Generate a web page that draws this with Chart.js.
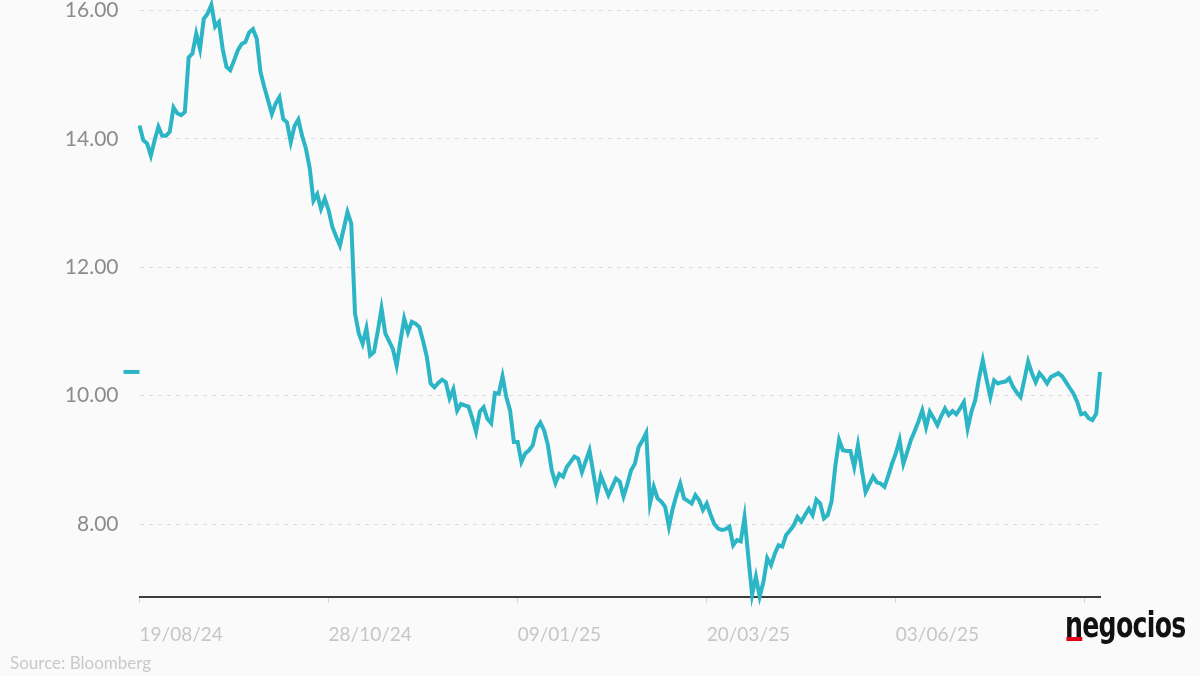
<!DOCTYPE html>
<html>
<head>
<meta charset="utf-8">
<script src="https://cdn.jsdelivr.net/npm/chart.js@4"></script>
<style>
  html, body { margin: 0; padding: 0; background: #fafafa; }
  #wrap { position: relative; width: 1200px; height: 676px; overflow: hidden; }
  #chart { display: block; }
  #source { position: absolute; left: 10px; top: 652px; font: 17px Lato, sans-serif; color: #c9c9c9; }
  #logo { position: absolute; left: 1065px; top: 608px; font: bold 35px/35px "DejaVu Sans", sans-serif; letter-spacing: -1px; color: #111; transform: scaleX(0.72); transform-origin: 0 0; white-space: nowrap; }
  #logo .bar { position: absolute; left: 2px; top: 29px; width: 22px; height: 4px; background: #e3001b; }
</style>
</head>
<body>
<div id="wrap">
  <canvas id="chart" width="1200" height="676"></canvas>
  <div id="source">Source: Bloomberg</div>
  <div id="logo">negocios<span class="bar"></span></div>
</div>
<script>
// cotação diária, índice de sessão a partir de 19/08/24
const prices = [
  14.21, 13.98, 13.93, 13.74, 13.98, 14.19, 14.05, 14.05, 14.11, 14.49,
  14.40, 14.37, 14.42, 15.27, 15.33, 15.64, 15.40, 15.87, 15.95, 16.09,
  15.75, 15.82, 15.40, 15.12, 15.07, 15.22, 15.38, 15.48, 15.51, 15.66,
  15.71, 15.56, 15.04, 14.81, 14.60, 14.39, 14.55, 14.65, 14.31, 14.26,
  13.95, 14.20, 14.30, 14.05, 13.85, 13.55, 13.04, 13.14, 12.91, 13.07,
  12.89, 12.63, 12.48, 12.34, 12.60, 12.86, 12.68, 11.28, 10.97, 10.81,
  11.05, 10.63, 10.68, 11.00, 11.36, 10.97, 10.85, 10.73, 10.47, 10.85,
  11.20, 10.99, 11.15, 11.12, 11.07, 10.85, 10.60, 10.19, 10.13, 10.20,
  10.25, 10.21, 9.96, 10.10, 9.77, 9.87, 9.85, 9.83, 9.65, 9.44,
  9.75, 9.82, 9.64, 9.57, 10.04, 10.03, 10.30, 9.98, 9.77, 9.28,
  9.28, 8.97, 9.10, 9.15, 9.23, 9.49, 9.58, 9.46, 9.23, 8.84,
  8.64, 8.78, 8.74, 8.89, 8.97, 9.05, 9.02, 8.81, 8.98, 9.15,
  8.80, 8.45, 8.75, 8.60, 8.45, 8.58, 8.71, 8.66, 8.43, 8.62,
  8.84, 8.94, 9.20, 9.30, 9.42, 8.32, 8.58, 8.40, 8.35, 8.27,
  7.96, 8.24, 8.45, 8.63, 8.40, 8.36, 8.32, 8.45, 8.37, 8.22,
  8.32, 8.15, 8.00, 7.93, 7.91, 7.92, 7.96, 7.67, 7.75, 7.73,
  8.11, 7.49, 6.90, 7.18, 6.87, 7.10, 7.47, 7.36, 7.54, 7.67,
  7.65, 7.83, 7.90, 7.98, 8.11, 8.04, 8.14, 8.24, 8.14, 8.38,
  8.32, 8.09, 8.14, 8.35, 8.90, 9.31, 9.15, 9.14, 9.14, 8.89,
  9.23, 8.85, 8.50, 8.62, 8.74, 8.65, 8.63, 8.58, 8.75, 8.94,
  9.10, 9.31, 8.94, 9.12, 9.31, 9.45, 9.60, 9.77, 9.51, 9.75,
  9.65, 9.54, 9.68, 9.80, 9.70, 9.76, 9.71, 9.80, 9.90, 9.49,
  9.75, 9.93, 10.27, 10.55, 10.25, 9.98, 10.24, 10.19, 10.21, 10.22,
  10.27, 10.14, 10.05, 9.98, 10.25, 10.53, 10.35, 10.21, 10.35, 10.28,
  10.19, 10.29, 10.32, 10.35, 10.30, 10.21, 10.12, 10.03, 9.90, 9.71,
  9.73, 9.65, 9.62, 9.72, 10.37
];

const xTickPositions = [0, 50, 100, 150, 200, 250];
const xTickLabels = ['19/08/24', '28/10/24', '09/01/25', '20/03/25', '03/06/25', ''];
const yTicks = [8, 10, 12, 14, 16];

const teal = '#2bb5c5';

// marca do último valor junto ao eixo
const lastValueMarker = {
  id: 'lastValueMarker',
  afterDatasetsDraw(chart) {
    const { ctx, chartArea, scales } = chart;
    const y = scales.y.getPixelForValue(prices[prices.length - 1]);
    ctx.save();
    ctx.strokeStyle = teal;
    ctx.lineWidth = 4;
    ctx.beginPath();
    ctx.moveTo(chartArea.left - 16, y);
    ctx.lineTo(chartArea.left, y);
    ctx.stroke();
    ctx.restore();
  }
};

new Chart(document.getElementById('chart'), {
  type: 'line',
  data: {
    datasets: [{
      data: prices.map((v, i) => ({ x: i, y: v })),
      borderColor: teal,
      borderWidth: 4,
      pointRadius: 0,
      tension: 0,
      clip: false
    }]
  },
  options: {
    responsive: false,
    animation: false,
    layout: { padding: { left: 0, right: 100, top: 0, bottom: 0 } },
    plugins: { legend: { display: false }, tooltip: { enabled: false } },
    scales: {
      x: {
        type: 'linear',
        min: 0,
        max: 254,
        afterBuildTicks: (axis) => { axis.ticks = xTickPositions.map(v => ({ value: v })); },
        afterFit: (axis) => { axis.height = 79; },
        border: { display: true, color: '#3c3c3c', width: 2 },
        grid: { drawOnChartArea: false, drawTicks: true, tickLength: 6, color: '#d6d6d6' },
        ticks: {
          align: 'start',
          padding: 20,
          maxRotation: 0,
          autoSkip: false,
          color: '#c6c6c6',
          font: { family: 'Lato', size: 19 },
          callback: (v) => xTickLabels[xTickPositions.indexOf(v)] ?? ''
        }
      },
      y: {
        min: 6.864,
        max: 16.156,
        afterBuildTicks: (axis) => { axis.ticks = yTicks.map(v => ({ value: v })); },
        afterFit: (axis) => { axis.width = 139.5; },
        border: { display: false, dash: [4, 5] },
        grid: { drawTicks: true, tickLength: 21, tickColor: 'transparent', color: '#dcdcdc', lineWidth: 1 },
        ticks: {
          padding: 0,
          color: '#8c8c8c',
          font: { family: 'Lato', size: 21, lineHeight: 0.05 },
          callback: (v) => v.toFixed(2)
        }
      }
    }
  },
  plugins: [lastValueMarker]
});
</script>
</body>
</html>
